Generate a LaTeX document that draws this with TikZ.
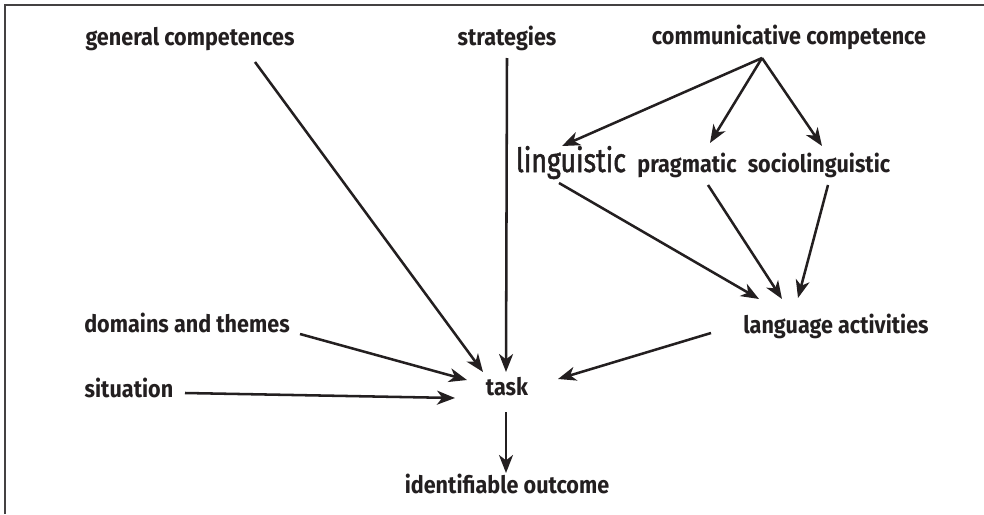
\documentclass[tikz,border=0pt]{standalone}
\usepackage{fontspec}
\setmainfont[FakeStretch=0.9]{Fira Sans}
\newfontfamily\lingfont[FakeStretch=0.8,FakeBold=1.5]{Fira Sans}
\usetikzlibrary{arrows.meta,positioning}
\definecolor{ink}{RGB}{35,31,32}

\begin{document}
\begin{tikzpicture}[x=0.75pt,y=-0.75pt,
  lbl/.style={font=\fontsize{18}{21}\selectfont\bfseries,color=ink,inner sep=0pt,anchor=base},
  link/.style={draw=ink,line width=1.9pt,-{Stealth[length=13.5pt,width=10.5pt,inset=4pt]}}]
  \useasboundingbox (0,0) rectangle (984,514);
  % frame
  \draw[ink!85,line width=1.5pt] (5,514) -- (5,5) -- (984,5);
  % labels
  \node[lbl] (gc) at (190,45) {general competences};
  \node[lbl] (strat) at (507,45) {strategies};
  \node[lbl] (comm) at (789,44) {communicative competence};
  \node[lbl,font=\lingfont\fontsize{25}{28}\selectfont] (ling) at (571,172) {linguistic};
  \node[lbl] (prag) at (687,172) {pragmatic};
  \node[lbl] (socio) at (819,172) {sociolinguistic};
  \node[lbl] (dom) at (187,332) {domains and themes};
  \node[lbl] (sit) at (129,397) {situation};
  \node[lbl] (task) at (507,395) {task};
  \node[lbl] (act) at (836,333) {language activities};
  \node[lbl] (out) at (507,493) {identifiable outcome};
  % arrows
  \draw[link] ([shift={(-27,14)}]comm.base) -- ([shift={(-9,-26)}]ling.base);
  \draw[link] ([shift={(-27,14)}]comm.base) -- ([shift={(23,-29)}]prag.base);
  \draw[link] ([shift={(-27,14)}]comm.base) -- ([shift={(3,-26)}]socio.base);
  \draw[link] ([shift={(-12,11)}]ling.base) -- ([shift={(-77,-34)}]act.base);
  \draw[link] ([shift={(21,13)}]prag.base) -- ([shift={(-54,-34)}]act.base);
  \draw[link] ([shift={(9,13)}]socio.base) -- ([shift={(-38,-35)}]act.base);
  \draw[link] ([shift={(65,17)}]gc.base) -- ([shift={(-24,-23)}]task.base);
  \draw[link] ([shift={(0,13)}]strat.base) -- ([shift={(-1,-23)}]task.base);
  \draw[link] ([shift={(113,2)}]dom.base) -- ([shift={(-40,-15)}]task.base);
  \draw[link] ([shift={(56,-4)}]sit.base) -- ([shift={(-52,3)}]task.base);
  \draw[link] ([shift={(-125,0)}]act.base) -- ([shift={(51,-16)}]task.base);
  \draw[link] ([shift={(-1,17)}]task.base) -- ([shift={(-1,-20)}]out.base);
\end{tikzpicture}
\end{document}
